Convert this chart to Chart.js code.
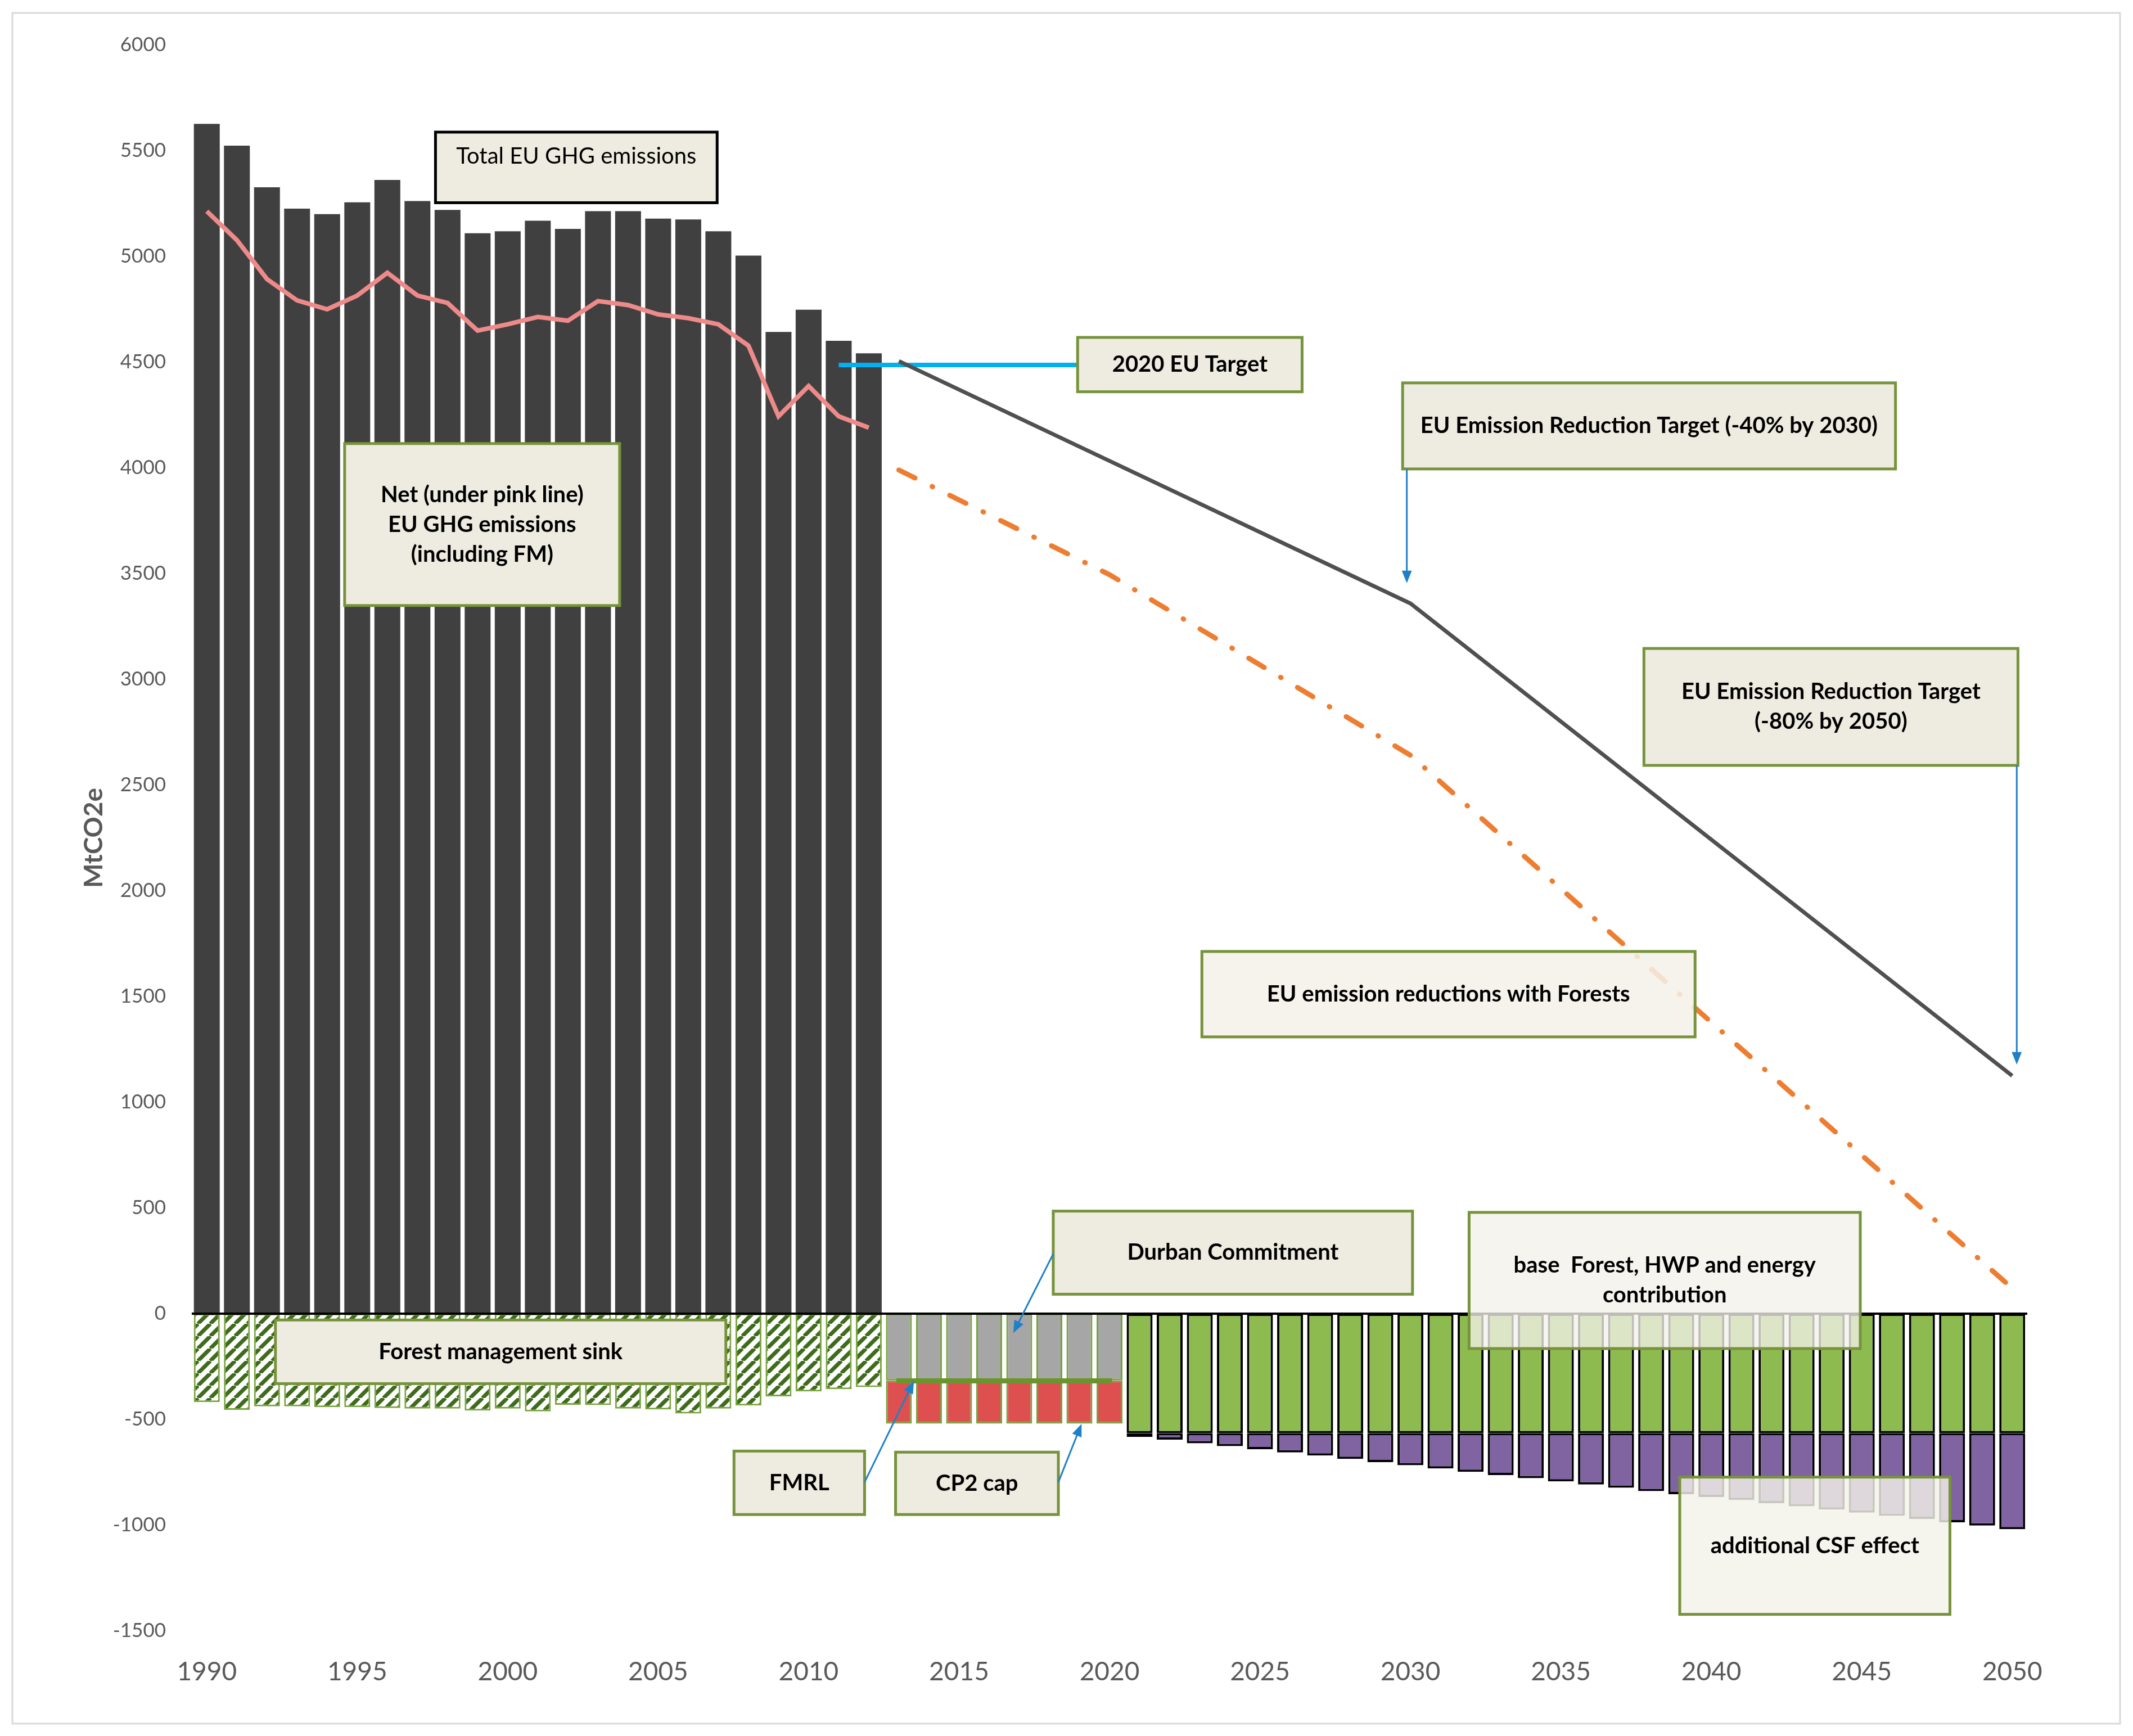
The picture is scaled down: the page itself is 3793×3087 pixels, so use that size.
<!DOCTYPE html>
<html>
<head>
<meta charset="utf-8">
<script src="https://cdn.jsdelivr.net/npm/chart.js@4.4.1/dist/chart.umd.min.js"></script>
<style>
    html, body { margin: 0; padding: 0; background: #ffffff; overflow: hidden; }
    canvas { display: block; }
</style>
</head>
<body>
<canvas id="ghg-chart" width="3793" height="3087"></canvas>
<script>
const FONT = "Lato, 'Open Sans', sans-serif";
const FONTCOLOR = "#595959";
const BOXFILL = "#EEECE1";
const BOXGREEN = "#77933C";
const ARROWBLUE = "#1F80C8";

const FIRSTYEAR = 1990;
const LASTYEAR = 2050;
const YEARS = [];
for (let year = FIRSTYEAR; year <= LASTYEAR; year++) {
    YEARS.push(String(year));
}

// 1990 - 2012
const totalEmissions = [5627, 5524, 5327, 5226, 5200, 5256, 5362, 5262, 5220, 5110, 5119, 5169,
    5130, 5214, 5214, 5179, 5175, 5119, 5004, 4643, 4748, 4601, 4542];
const netEmissions = [5214, 5077, 4893, 4792, 4750, 4815, 4923, 4815, 4780, 4649, 4679, 4714,
    4696, 4789, 4770, 4726, 4708, 4679, 4578, 4244, 4387, 4244, 4190];
const forestSink = [-418, -455, -438, -438, -442, -442, -446, -449, -449, -458, -449, -462,
    -431, -432, -449, -453, -472, -449, -434, -391, -368, -357, -347];

// 2013 - 2020
const durbanCommitment = [-315, -315, -315, -315, -315, -315, -315, -315];
const cp2Cap = [-205, -205, -205, -205, -205, -205, -205, -205];

// 2021 - 2050
const baseForest = [-565, -565, -565, -565, -565, -565, -565, -565, -565, -565,
    -565, -565, -565, -565, -565, -565, -565, -565, -565, -565,
    -565, -565, -565, -565, -565, -565, -565, -565, -565, -565];
const csfEffect = [-18, -31, -48, -61, -76, -91, -106, -122, -137, -152,
    -167, -183, -198, -213, -228, -243, -258, -274, -289, -302,
    -316, -331, -346, -361, -376, -391, -406, -422, -437, -454];

// target paths
const targetYears = [2013, 2020, 2030, 2040, 2050];
const targetValues = [4505, 4033, 3359, 2242, 1125];
const forestPathYears = [2013, 2020, 2030, 2040, 2050];
const forestPathValues = [3990, 3495, 2641, 1378, 120];
const eu2020Years = [2011, 2019];
const eu2020Values = [4487, 4487];
const fmrlYears = [2013, 2020];
const fmrlValues = [-318, -318];

const TEXTBOXES = [
    {x1: 1997.6, x2: 2006.96, y1: 5588, y2: 5254, lines: ["Total EU GHG emissions"], textY: 5473, border: "#000000", weight: "normal"},
    {x1: 2018.94, x2: 2026.4, y1: 4617, y2: 4360, lines: ["2020 EU Target"]},
    {x1: 2029.74, x2: 2046.12, y1: 4402, y2: 3995, lines: ["EU Emission Reduction Target (-40% by 2030)"]},
    {x1: 1994.58, x2: 2003.72, y1: 4115, y2: 3349, lines: ["Net (under pink line)", "EU GHG emissions", "(including FM)"]},
    {x1: 2037.76, x2: 2050.19, y1: 3146, y2: 2593, lines: ["EU Emission Reduction Target", "(-80% by 2050)"]},
    {x1: 2023.07, x2: 2039.46, y1: 1713, y2: 1309, lines: ["EU emission reductions with Forests"], alpha: 0.85},
    {x1: 2018.13, x2: 2030.07, y1: 485, y2: 92, lines: ["Durban Commitment"]},
    {x1: 2031.95, x2: 2044.95, y1: 479, y2: -165, lines: ["base  Forest, HWP and energy", "contribution"], alpha: 0.78},
    {x1: 1992.28, x2: 2007.25, y1: -30, y2: -331, lines: ["Forest management sink"]},
    {x1: 2007.52, x2: 2011.86, y1: -650, y2: -950, lines: ["FMRL"]},
    {x1: 2012.89, x2: 2018.3, y1: -655, y2: -950, lines: ["CP2 cap"]},
    {x1: 2038.95, x2: 2047.93, y1: -773, y2: -1422, lines: ["additional CSF effect"], alpha: 0.82}
];

const ARROWS = [
    {from: [2029.88, 3995], to: [2029.88, 3455]},
    {from: [2050.15, 2593], to: [2050.15, 1178]},
    {from: [2018.13, 283], to: [2016.8, -92]},
    {from: [2011.86, -797], to: [2013.5, -318]},
    {from: [2018.3, -797], to: [2019.07, -521]}
];

function spread(startYear, values) {
    const res = YEARS.map(() => null);
    values.forEach((value, i) => {
        res[startYear - FIRSTYEAR + i] = value;
    });
    return res;
}

function placeAt(years, values) {
    const res = YEARS.map(() => null);
    years.forEach((year, i) => {
        res[year - FIRSTYEAR] = values[i];
    });
    return res;
}

function makeHatch() {
    const size = 22;
    const tile = document.createElement("canvas");
    tile.width = size;
    tile.height = size;
    const tctx = tile.getContext("2d");
    tctx.fillStyle = "#ffffff";
    tctx.fillRect(0, 0, size, size);
    tctx.strokeStyle = "#3F6B1C";
    tctx.lineWidth = 7;
    for (let i = -1; i <= 1; i++) {
        tctx.beginPath();
        tctx.moveTo(i * size, size);
        tctx.lineTo(i * size + size, 0);
        tctx.stroke();
    }
    return document.querySelector("#ghg-chart").getContext("2d").createPattern(tile, "repeat");
}

function xPixel(scale, year) {
    return scale.getPixelForValue(year - FIRSTYEAR);
}

function drawBox(ctx, chart, box) {
    const {x, y} = chart.scales;
    const left = xPixel(x, box.x1);
    const right = xPixel(x, box.x2);
    const top = y.getPixelForValue(box.y1);
    const bottom = y.getPixelForValue(box.y2);

    ctx.save();
    ctx.globalAlpha = box.alpha || 1;
    ctx.fillStyle = box.alpha ? "#F3F1E9" : BOXFILL;
    ctx.fillRect(left, top, right - left, bottom - top);
    ctx.globalAlpha = 1;
    ctx.lineWidth = 5;
    ctx.strokeStyle = box.border || BOXGREEN;
    ctx.strokeRect(left, top, right - left, bottom - top);

    ctx.fillStyle = "#000000";
    ctx.font = `${box.weight || "bold"} 40px ${FONT}`;
    ctx.textAlign = "center";
    ctx.textBaseline = "middle";
    const centerX = (left + right) / 2;
    const centerY = box.textY !== undefined ? y.getPixelForValue(box.textY) : (top + bottom) / 2;
    const gap = 53;
    box.lines.forEach((line, i) => {
        ctx.fillText(line, centerX, centerY + (i - (box.lines.length - 1) / 2) * gap);
    });
    ctx.restore();
}

function drawArrow(ctx, chart, arrow) {
    const {x, y} = chart.scales;
    const x1 = xPixel(x, arrow.from[0]);
    const y1 = y.getPixelForValue(arrow.from[1]);
    const x2 = xPixel(x, arrow.to[0]);
    const y2 = y.getPixelForValue(arrow.to[1]);
    const angle = Math.atan2(y2 - y1, x2 - x1);
    const head = 24;

    ctx.save();
    ctx.strokeStyle = ARROWBLUE;
    ctx.fillStyle = ARROWBLUE;
    ctx.lineWidth = 3;
    ctx.beginPath();
    ctx.moveTo(x1, y1);
    ctx.lineTo(x2 - Math.cos(angle) * head * 0.8, y2 - Math.sin(angle) * head * 0.8);
    ctx.stroke();
    ctx.beginPath();
    ctx.moveTo(x2, y2);
    ctx.lineTo(x2 - head * Math.cos(angle - 0.38), y2 - head * Math.sin(angle - 0.38));
    ctx.lineTo(x2 - head * Math.cos(angle + 0.38), y2 - head * Math.sin(angle + 0.38));
    ctx.closePath();
    ctx.fill();
    ctx.restore();
}

const annotationPlugin = {
    id: "annotations",
    beforeDraw(chart) {
        const ctx = chart.ctx;
        ctx.save();
        ctx.fillStyle = "#ffffff";
        ctx.fillRect(0, 0, chart.width, chart.height);
        ctx.strokeStyle = "#D9D9D9";
        ctx.lineWidth = 3;
        ctx.strokeRect(22, 23, 3748, 3042);
        ctx.restore();
    },
    afterDatasetsDraw(chart) {
        const ctx = chart.ctx;
        const area = chart.chartArea;
        const zero = chart.scales.y.getPixelForValue(0);
        ctx.save();
        ctx.strokeStyle = "#000000";
        ctx.lineWidth = 4;
        ctx.beginPath();
        ctx.moveTo(area.left, zero);
        ctx.lineTo(area.right, zero);
        ctx.stroke();
        ctx.restore();

        TEXTBOXES.forEach(box => drawBox(ctx, chart, box));
        ARROWS.forEach(arrow => drawArrow(ctx, chart, arrow));
    }
};

function makeChart() {
    const ctx = document.querySelector("#ghg-chart").getContext("2d");
    const barStyle = {
        type: "bar",
        order: 2,
        categoryPercentage: 1,
        barPercentage: 0.86,
        borderSkipped: false
    };
    const lineStyle = {
        type: "line",
        order: 1,
        pointRadius: 0,
        tension: 0,
        spanGaps: true,
        fill: false
    };

    const configuration = {
        data: {
            labels: YEARS,
            datasets: [
                Object.assign({}, barStyle, {
                    label: "Total EU GHG emissions",
                    data: spread(1990, totalEmissions),
                    backgroundColor: "#404040",
                    borderWidth: 0
                }),
                Object.assign({}, barStyle, {
                    label: "Forest management sink",
                    data: spread(1990, forestSink),
                    backgroundColor: makeHatch(),
                    borderColor: "#77A33C",
                    borderWidth: 3
                }),
                Object.assign({}, barStyle, {
                    label: "Durban Commitment",
                    data: spread(2013, durbanCommitment),
                    backgroundColor: "#A6A6A6",
                    borderColor: "#77A33C",
                    borderWidth: 3
                }),
                Object.assign({}, barStyle, {
                    label: "CP2 cap",
                    data: spread(2013, cp2Cap),
                    backgroundColor: "#DE5050",
                    borderColor: "#77A33C",
                    borderWidth: 3
                }),
                Object.assign({}, barStyle, {
                    label: "base Forest, HWP and energy contribution",
                    data: spread(2021, baseForest),
                    backgroundColor: "#8DBB4F",
                    borderColor: "#000000",
                    borderWidth: 4
                }),
                Object.assign({}, barStyle, {
                    label: "additional CSF effect",
                    data: spread(2021, csfEffect),
                    backgroundColor: "#8064A2",
                    borderColor: "#000000",
                    borderWidth: 4
                }),
                Object.assign({}, lineStyle, {
                    label: "Net EU GHG emissions",
                    stack: "net",
                    data: spread(1990, netEmissions),
                    borderColor: "#EE8A8A",
                    borderWidth: 8
                }),
                Object.assign({}, lineStyle, {
                    label: "EU Emission Reduction Target",
                    stack: "target",
                    data: placeAt(targetYears, targetValues),
                    borderColor: "#505050",
                    borderWidth: 7
                }),
                Object.assign({}, lineStyle, {
                    label: "EU emission reductions with Forests",
                    stack: "forests",
                    data: placeAt(forestPathYears, forestPathValues),
                    borderColor: "#ED7D31",
                    borderWidth: 9,
                    borderCapStyle: "round",
                    borderDash: [32, 34, 1, 34]
                }),
                Object.assign({}, lineStyle, {
                    label: "2020 EU Target",
                    stack: "eu2020",
                    data: placeAt(eu2020Years, eu2020Values),
                    borderColor: "#00B0F0",
                    borderWidth: 8
                }),
                Object.assign({}, lineStyle, {
                    label: "FMRL",
                    stack: "fmrl",
                    data: placeAt(fmrlYears, fmrlValues),
                    borderColor: "#6A942C",
                    borderWidth: 9,
                    borderCapStyle: "square"
                })
            ]
        },
        options: {
            responsive: false,
            animation: false,
            devicePixelRatio: 1,
            layout: {
                padding: {top: 80, right: 188, left: 0, bottom: 0}
            },
            plugins: {
                legend: {display: false},
                tooltip: {enabled: false}
            },
            scales: {
                x: {
                    stacked: true,
                    offset: true,
                    grid: {display: false},
                    border: {display: false},
                    ticks: {
                        autoSkip: false,
                        maxRotation: 0,
                        padding: 38,
                        color: FONTCOLOR,
                        font: {family: FONT, size: 46},
                        callback: (value, index) => (index % 5 === 0 ? YEARS[index] : "")
                    },
                    afterFit: scale => {
                        scale.height = 187;
                    }
                },
                y: {
                    stacked: true,
                    min: -1500,
                    max: 6000,
                    grid: {display: false},
                    border: {display: false},
                    ticks: {
                        stepSize: 500,
                        padding: 38,
                        color: FONTCOLOR,
                        font: {family: FONT, size: 35},
                        callback: value => String(value)
                    },
                    title: {
                        display: true,
                        text: "MtCO2e",
                        color: FONTCOLOR,
                        font: {family: FONT, size: 46, weight: "bold"},
                        padding: {top: 140, bottom: 0}
                    },
                    afterFit: scale => {
                        scale.width = 341;
                    }
                }
            }
        },
        plugins: [annotationPlugin]
    };
    new Chart(ctx, configuration);
}

makeChart();
</script>
</body>
</html>
